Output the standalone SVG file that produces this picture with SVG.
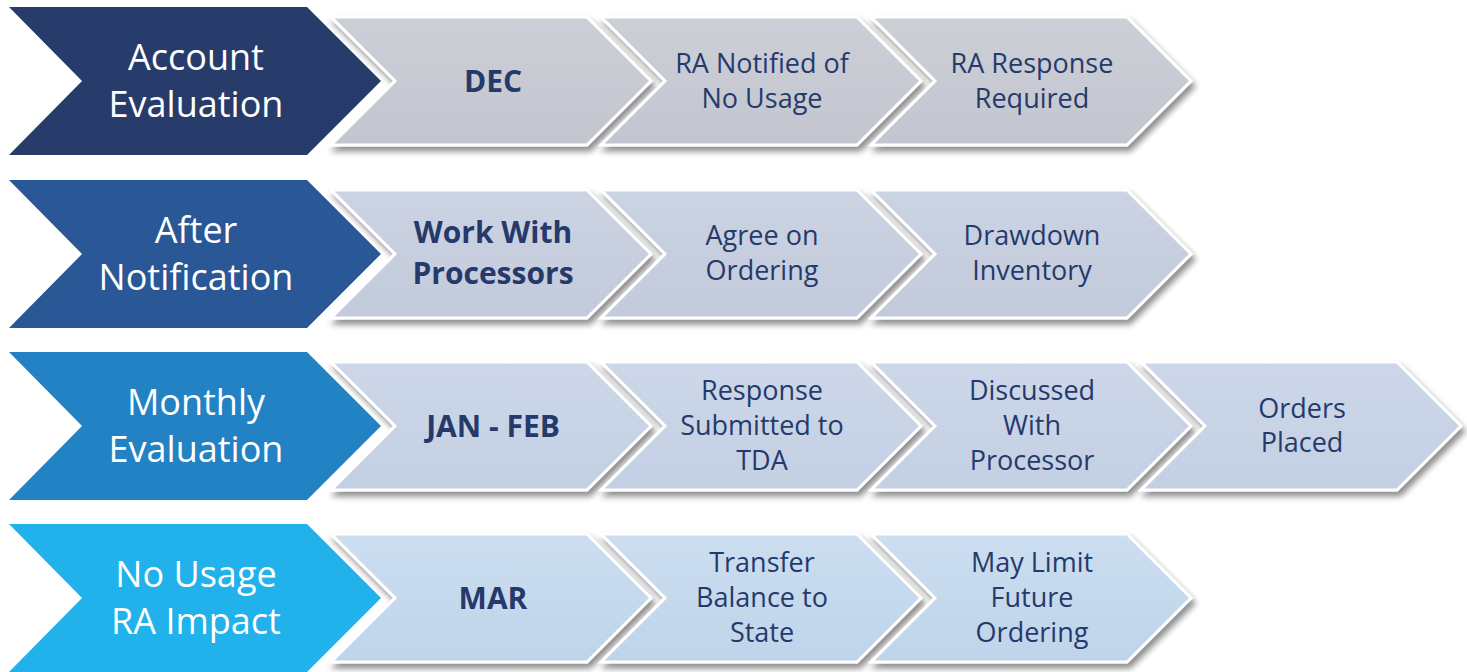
<svg xmlns="http://www.w3.org/2000/svg" width="1467" height="672" viewBox="0 0 1467 672">
<defs>
<filter id="sh" x="-10%" y="-10%" width="125%" height="135%">
<feGaussianBlur in="SourceAlpha" stdDeviation="3"/>
<feOffset dx="3" dy="5" result="b"/>
<feComponentTransfer><feFuncA type="linear" slope="0.45"/></feComponentTransfer>
<feMerge><feMergeNode/><feMergeNode in="SourceGraphic"/></feMerge>
</filter>
<linearGradient id="g1" x1="0" y1="0" x2="0" y2="1"><stop offset="0" stop-color="#CDCFD7"/><stop offset="1" stop-color="#C3C6CF"/></linearGradient>
<linearGradient id="g2" x1="0" y1="0" x2="0" y2="1"><stop offset="0" stop-color="#CCD3E3"/><stop offset="1" stop-color="#C2CADB"/></linearGradient>
<linearGradient id="g3" x1="0" y1="0" x2="0" y2="1"><stop offset="0" stop-color="#CDD7E9"/><stop offset="1" stop-color="#C3CFE3"/></linearGradient>
<linearGradient id="g4" x1="0" y1="0" x2="0" y2="1"><stop offset="0" stop-color="#CCDEF0"/><stop offset="1" stop-color="#BFD4EA"/></linearGradient>
<path id="big" d="M0,0 H298 L372,74 L298,148 H0 L73,74 Z"/>
<path id="small" d="M0,0 H256 L320,64 L256,128 H0 L64,64 Z"/>
<style>
.bt{font-family:"Open Sans",Lato,"Liberation Sans",sans-serif;font-size:36px;fill:#FFFFFF;text-anchor:middle}
.st{font-family:"Open Sans",Lato,"Liberation Sans",sans-serif;font-size:27px;fill:#253A6B;text-anchor:middle}
.sb{font-family:"Open Sans",Lato,"Liberation Sans",sans-serif;font-size:30px;font-weight:bold;fill:#253A6B;text-anchor:middle}
.sm{stroke:#FFFFFF;stroke-width:3;filter:url(#sh)}
</style>
</defs>
<rect width="1467" height="672" fill="#FFFFFF"/>
<g id="connectors"></g>

<g id="row1">
<g id="account-evaluation"><use href="#big" x="9" y="7" fill="#283C6C"/>
<text class="bt" x="196" y="70">Account</text><text class="bt" x="196" y="117">Evaluation</text></g>
<g id="dec"><use href="#small" x="331" y="17" fill="url(#g1)" class="sm"/>
<text class="sb" x="493" y="92">DEC</text></g>
<g id="ra-notified"><use href="#small" x="601" y="17" fill="url(#g1)" class="sm"/>
<text class="st" x="762" y="73">RA Notified of</text><text class="st" x="762" y="108">No Usage</text></g>
<g id="ra-response"><use href="#small" x="871" y="17" fill="url(#g1)" class="sm"/>
<text class="st" x="1032" y="73">RA Response</text><text class="st" x="1032" y="108">Required</text></g>
</g>

<g id="row2">
<g id="after-notification"><use href="#big" x="9" y="180" fill="#2A5796"/>
<text class="bt" x="196" y="243">After</text><text class="bt" x="196" y="290">Notification</text></g>
<g id="work-with-processors"><use href="#small" x="331" y="190" fill="url(#g2)" class="sm"/>
<text class="sb" x="493" y="243">Work With</text><text class="sb" x="493" y="284">Processors</text></g>
<g id="agree-on-ordering"><use href="#small" x="601" y="190" fill="url(#g2)" class="sm"/>
<text class="st" x="762" y="245">Agree on</text><text class="st" x="762" y="280">Ordering</text></g>
<g id="drawdown-inventory"><use href="#small" x="871" y="190" fill="url(#g2)" class="sm"/>
<text class="st" x="1032" y="245">Drawdown</text><text class="st" x="1032" y="280">Inventory</text></g>
</g>

<g id="row3">
<g id="monthly-evaluation"><use href="#big" x="9" y="352" fill="#2382C4"/>
<text class="bt" x="196" y="415">Monthly</text><text class="bt" x="196" y="462">Evaluation</text></g>
<g id="jan-feb"><use href="#small" x="331" y="362" fill="url(#g3)" class="sm"/>
<text class="sb" x="493" y="437">JAN - FEB</text></g>
<g id="response-submitted"><use href="#small" x="601" y="362" fill="url(#g3)" class="sm"/>
<text class="st" x="762" y="400">Response</text><text class="st" x="762" y="435">Submitted to</text><text class="st" x="762" y="470">TDA</text></g>
<g id="discussed-with-processor"><use href="#small" x="871" y="362" fill="url(#g3)" class="sm"/>
<text class="st" x="1032" y="400">Discussed</text><text class="st" x="1032" y="435">With</text><text class="st" x="1032" y="470">Processor</text></g>
<g id="orders-placed"><use href="#small" x="1141" y="362" fill="url(#g3)" class="sm"/>
<text class="st" x="1302" y="418">Orders</text><text class="st" x="1302" y="452">Placed</text></g>
</g>

<g id="row4">
<g id="no-usage-ra-impact"><use href="#big" x="9" y="524" fill="#21B1EB"/>
<text class="bt" x="196" y="587">No Usage</text><text class="bt" x="196" y="634">RA Impact</text></g>
<g id="mar"><use href="#small" x="331" y="534" fill="url(#g4)" class="sm"/>
<text class="sb" x="493" y="609">MAR</text></g>
<g id="transfer-balance"><use href="#small" x="601" y="534" fill="url(#g4)" class="sm"/>
<text class="st" x="762" y="572">Transfer</text><text class="st" x="762" y="607">Balance to</text><text class="st" x="762" y="642">State</text></g>
<g id="may-limit"><use href="#small" x="871" y="534" fill="url(#g4)" class="sm"/>
<text class="st" x="1032" y="572">May Limit</text><text class="st" x="1032" y="607">Future</text><text class="st" x="1032" y="642">Ordering</text></g>
</g>
</svg>
